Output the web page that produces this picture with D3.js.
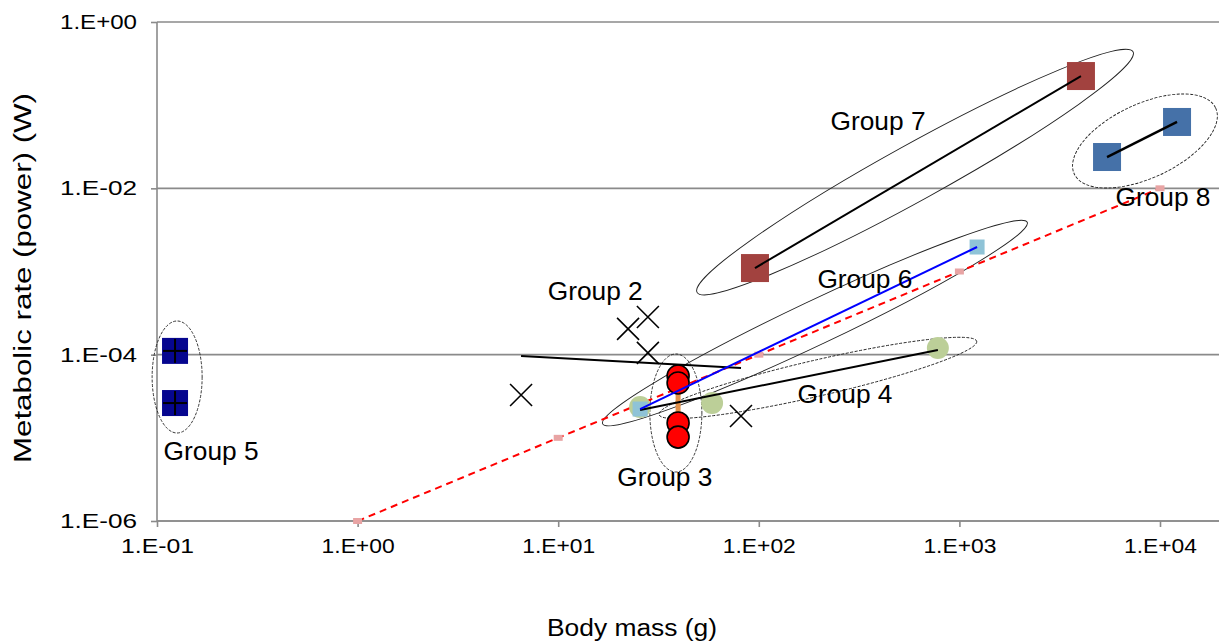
<!DOCTYPE html>
<html>
<head>
<meta charset="utf-8">
<script src="https://d3js.org/d3.v7.min.js"></script>
<style>
    body { margin: 0; background: #fff; }
    text { font-family: "Liberation Sans", Arial, sans-serif; fill: #000; }
</style>
</head>
<body>
<section id="visualization-1"><svg></svg></section>
<script>
// axis ticks
var massTicks = [0.1, 1, 10, 100, 1000, 10000],
    massTickLabels = ['1.E-01', '1.E+00', '1.E+01', '1.E+02', '1.E+03', '1.E+04'],
    powerTicks = [1e-6, 1e-4, 1e-2, 1],
    powerTickLabels = ['1.E-06', '1.E-04', '1.E-02', '1.E+00'];

// group values (mass in g, power in W)
var group2Mass = [28.0, 22.3, 28.0, 6.53, 81.5],
    group2Power = [2.84e-4, 2.04e-4, 1.05e-4, 3.27e-5, 1.83e-5],
    group2FitMass = [6.53, 81.5],
    group2FitPower = [9.65e-5, 6.92e-5];

var group3Mass = [39.6, 39.6, 39.6, 39.6],
    group3Power = [5.54e-5, 4.56e-5, 1.51e-5, 1.02e-5];

var group4Mass = [25.6, 58.5, 781],
    group4Power = [2.35e-5, 2.62e-5, 1.20e-4],
    group4FitMass = [25.6, 781],
    group4FitPower = [2.16e-5, 1.14e-4];

var group5Mass = [0.123, 0.123],
    group5Power = [1.11e-4, 2.62e-5];

var group6Mass = [25.6, 1225],
    group6Power = [2.22e-5, 1.97e-3];

var group7Mass = [95.7, 4036],
    group7Power = [1.10e-3, 0.224];

var group8Mass = [5445, 12160],
    group8Power = [0.0238, 0.0628];

// reference line P = 1e-6 * M
var refMass = [1, 10, 100, 1000, 10000],
    refPower = [1e-6, 1e-5, 1e-4, 1e-3, 1e-2];

// group outlines: centre in data units
var ellipseNames = ['Group 5', 'Group 3', 'Group 7', 'Group 8', 'Group 6', 'Group 4'],
    ellipseMass = [0.126, 38.6, 601, 8414, 190.5, 197],
    ellipsePower = [5.39e-5, 1.99e-5, 0.0157, 0.0371, 2.40e-4, 5.25e-5];

// group labels (anchor = middle of the text baseline)
var labelNames = ['Group 7', 'Group 6', 'Group 2', 'Group 4', 'Group 3', 'Group 5', 'Group 8'],
    labelMass = [393, 338, 15.3, 269, 34.0, 0.186, 10350],
    labelPower = [0.0503, 6.34e-4, 4.55e-4, 2.62e-5, 2.64e-6, 5.42e-6, 6.13e-3];

var width = 1221, height = 643;
var plot = {left: 157, right: 1219, top: 22, bottom: 521};

var svg = d3.select('section#visualization-1').select('svg')
    .attr('width', width)
    .attr('height', height);

var x = d3.scaleLog().domain([0.1, 1e4]).range([157, 1160]),
    y = d3.scaleLog().domain([1e-6, 1]).range([plot.bottom, plot.top]);

drawAxes();
drawEllipses();
drawReference();
drawMarkers();
drawFits();
drawLabels();

function drawAxes() {
    var grey = '#8a8a8a';

    // horizontal grid lines
    svg.append('g').selectAll('line')
        .data(powerTicks)
        .enter().append('line')
        .attr('x1', plot.left).attr('x2', plot.right)
        .attr('y1', function(d) { return y(d); })
        .attr('y2', function(d) { return y(d); })
        .attr('stroke', grey)
        .attr('stroke-width', 1.6);

    // y axis line with ticks to the left
    svg.append('line')
        .attr('x1', plot.left).attr('x2', plot.left)
        .attr('y1', plot.top).attr('y2', plot.bottom)
        .attr('stroke', grey).attr('stroke-width', 1.6);

    var axisY = d3.axisLeft(y)
        .tickValues(powerTicks)
        .tickSize(6)
        .tickFormat(function(d, i) { return powerTickLabels[i]; });

    var gy = svg.append('g')
        .attr('transform', 'translate(' + plot.left + ',0)')
        .call(axisY);
    gy.select('.domain').remove();
    gy.selectAll('.tick line').attr('stroke', grey).attr('stroke-width', 1.6);
    gy.selectAll('.tick text')
        .attr('x', -20)
        .attr('font-size', 20)
        .attr('font-family', '"Liberation Sans", Arial, sans-serif')
        .attr('textLength', 77)
        .attr('lengthAdjust', 'spacingAndGlyphs');

    // x axis
    var axisX = d3.axisBottom(x)
        .tickValues(massTicks)
        .tickSize(6)
        .tickFormat(function(d, i) { return massTickLabels[i]; });

    var gx = svg.append('g')
        .attr('transform', 'translate(0,' + plot.bottom + ')')
        .call(axisX);
    gx.select('.domain').remove();
    gx.selectAll('.tick line').attr('stroke', grey).attr('stroke-width', 1.6);
    gx.selectAll('.tick text')
        .attr('y', 18)
        .attr('font-size', 20)
        .attr('font-family', '"Liberation Sans", Arial, sans-serif')
        .attr('textLength', 73)
        .attr('lengthAdjust', 'spacingAndGlyphs');

    svg.append('line')
        .attr('x1', plot.left).attr('x2', plot.right)
        .attr('y1', plot.bottom).attr('y2', plot.bottom)
        .attr('stroke', grey).attr('stroke-width', 1.6);

    // axis titles
    svg.append('text')
        .attr('x', 632).attr('y', 636)
        .attr('text-anchor', 'middle')
        .attr('font-size', 23)
        .attr('textLength', 170)
        .attr('lengthAdjust', 'spacingAndGlyphs')
        .text('Body mass (g)');

    svg.append('text')
        .attr('transform', 'translate(31,278) rotate(-90)')
        .attr('text-anchor', 'middle')
        .attr('font-size', 23)
        .attr('textLength', 370)
        .attr('lengthAdjust', 'spacingAndGlyphs')
        .text('Metabolic rate (power) (W)');
}

function drawEllipses() {
    // sizes of the hand drawn outlines, in pixels
    var shape = {
        'Group 5': {rx: 25, ry: 56, angle: 0, dash: '3,1.5'},
        'Group 3': {rx: 26, ry: 59, angle: 0, dash: '3,1.5'},
        'Group 7': {rx: 249, ry: 28, angle: -28.9, dash: null},
        'Group 8': {rx: 78, ry: 37, angle: -25, dash: '3,1.5'},
        'Group 6': {rx: 235, ry: 22, angle: -25.4, dash: null},
        'Group 4': {rx: 163, ry: 18, angle: -13, dash: '3,1.5'}
    };

    svg.append('g').selectAll('ellipse')
        .data(ellipseNames)
        .enter().append('ellipse')
        .attr('transform', function(d, i) {
            return 'translate(' + x(ellipseMass[i]) + ',' + y(ellipsePower[i]) + ') rotate(' + shape[d].angle + ')';
        })
        .attr('rx', function(d) { return shape[d].rx; })
        .attr('ry', function(d) { return shape[d].ry; })
        .attr('fill', 'none')
        .attr('stroke', '#222')
        .attr('stroke-width', 0.9)
        .attr('stroke-dasharray', function(d) { return shape[d].dash; });
}

function drawReference() {
    var line = d3.line()
        .x(function(d, i) { return x(refMass[i]); })
        .y(function(d, i) { return y(refPower[i]); });

    svg.append('path')
        .datum(refMass)
        .attr('d', line)
        .attr('fill', 'none')
        .attr('stroke', '#ff0000')
        .attr('stroke-width', 2)
        .attr('stroke-dasharray', '7,5');

    svg.append('g').selectAll('rect')
        .data(refMass)
        .enter().append('rect')
        .attr('x', function(d) { return x(d) - 4.5; })
        .attr('y', function(d, i) { return y(refPower[i]) - 3; })
        .attr('width', 9)
        .attr('height', 6)
        .attr('fill', '#e8a4a4');
}

function squares(mass, power, size, color) {
    svg.append('g').selectAll('rect')
        .data(mass)
        .enter().append('rect')
        .attr('x', function(d) { return x(d) - size / 2; })
        .attr('y', function(d, i) { return y(power[i]) - size / 2; })
        .attr('width', size)
        .attr('height', size)
        .attr('fill', color);
}

function circles(mass, power, r, color, stroke) {
    svg.append('g').selectAll('circle')
        .data(mass)
        .enter().append('circle')
        .attr('cx', function(d) { return x(d); })
        .attr('cy', function(d, i) { return y(power[i]); })
        .attr('r', r)
        .attr('fill', color)
        .attr('stroke', stroke || 'none')
        .attr('stroke-width', 1.6);
}

function fitLine(mass, power, color, w) {
    svg.append('line')
        .attr('x1', x(mass[0])).attr('y1', y(power[0]))
        .attr('x2', x(mass[mass.length - 1])).attr('y2', y(power[power.length - 1]))
        .attr('stroke', color)
        .attr('stroke-width', w);
}

function drawMarkers() {
    // group 5: navy squares with a plus
    squares(group5Mass, group5Power, 26, '#06068f');
    var plus = svg.append('g').selectAll('g')
        .data(group5Mass)
        .enter().append('g')
        .attr('transform', function(d, i) { return 'translate(' + x(d) + ',' + y(group5Power[i]) + ')'; });
    plus.append('line').attr('x1', -12).attr('x2', 12).attr('stroke', '#000').attr('stroke-width', 2);
    plus.append('line').attr('y1', -12).attr('y2', 12).attr('stroke', '#000').attr('stroke-width', 2);

    // group 2: crosses
    svg.append('g').selectAll('path')
        .data(group2Mass)
        .enter().append('path')
        .attr('transform', function(d, i) { return 'translate(' + x(d) + ',' + y(group2Power[i]) + ')'; })
        .attr('d', 'M-11,-11L11,11M-11,11L11,-11')
        .attr('stroke', '#000')
        .attr('stroke-width', 1.6);

    // group 4: green circles, group 6 light blue squares on top
    circles(group4Mass, group4Power, 11, '#bccf98');
    squares(group6Mass, group6Power, 15, '#8fc3d7');

    // group 3: red circles joined by an orange bar
    fitLine(group3Mass, group3Power, '#e3914a', 5);
    circles(group3Mass, group3Power, 11, '#ff0000', '#000');

    // group 7 and 8 squares
    squares(group7Mass, group7Power, 28, '#a2423f');
    squares(group8Mass, group8Power, 28, '#4571a8');
}

function drawFits() {
    fitLine(group2FitMass, group2FitPower, '#000', 2);
    fitLine(group4FitMass, group4FitPower, '#000', 2);
    fitLine(group6Mass, group6Power, '#0000ff', 2);
    fitLine(group7Mass, group7Power, '#000', 2);
    fitLine(group8Mass, group8Power, '#000', 2.5);
}

function drawLabels() {
    svg.append('g').selectAll('text')
        .data(labelNames)
        .enter().append('text')
        .attr('x', function(d, i) { return x(labelMass[i]); })
        .attr('y', function(d, i) { return y(labelPower[i]); })
        .attr('text-anchor', 'middle')
        .attr('font-size', 25)
        .attr('textLength', 95)
        .attr('lengthAdjust', 'spacingAndGlyphs')
        .text(function(d) { return d; });
}
</script>
</body>
</html>
